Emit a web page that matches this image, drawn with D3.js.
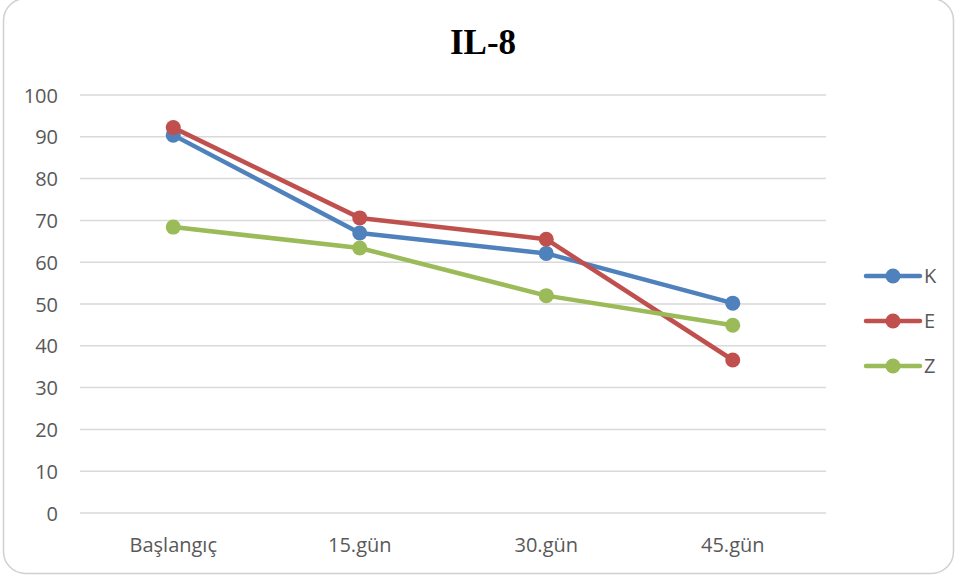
<!DOCTYPE html>
<html>
<head>
<meta charset="utf-8">
<script src="https://cdn.jsdelivr.net/npm/d3@7"></script>
<style>
  html, body { margin: 0; padding: 0; background: #fff; }
  svg { display: block; }
</style>
</head>
<body>
<svg id="chart" width="956" height="579"></svg>
<script>
const categories = ["Başlangıç", "15.gün", "30.gün", "45.gün"];
const seriesNames = ["K", "E", "Z"];
const valuesK = [90.4, 67.0, 62.1, 50.2];
const valuesE = [92.2, 70.6, 65.5, 36.6];
const valuesZ = [68.4, 63.4, 52.0, 44.9];
const yTicks = [0, 10, 20, 30, 40, 50, 60, 70, 80, 90, 100];
const colors = ["#4f81bd", "#c0504d", "#9bbb59"];
const title = "IL-8";

const series = seriesNames.map((name, i) => ({
  name,
  values: [valuesK, valuesE, valuesZ][i],
  color: colors[i]
}));

const svg = d3.select("#chart");
const font = "'Open Sans', 'Noto Sans', sans-serif";
const labelSize = 20;

// outer chart frame
svg.append("rect")
  .attr("x", 3.5).attr("y", -1.5)
  .attr("width", 950).attr("height", 575)
  .attr("rx", 22).attr("ry", 22)
  .attr("fill", "#fff")
  .attr("stroke", "#d0d0d0")
  .attr("stroke-width", 1.5);

const plot = { left: 80, right: 826, top: 95, bottom: 513 };

const x = d3.scaleBand()
  .domain(categories)
  .range([plot.left, plot.right]);

const y = d3.scaleLinear()
  .domain([0, 100])
  .range([plot.bottom, plot.top]);

// title
svg.append("text")
  .attr("x", 483).attr("y", 54)
  .attr("text-anchor", "middle")
  .attr("font-family", "'Liberation Serif', 'Times New Roman', serif")
  .attr("font-weight", "bold")
  .attr("font-size", 35)
  .attr("fill", "#000")
  .text(title);

// horizontal gridlines
svg.append("g")
  .selectAll("line")
  .data(yTicks)
  .join("line")
  .attr("x1", plot.left).attr("x2", plot.right)
  .attr("y1", d => y(d)).attr("y2", d => y(d))
  .attr("stroke", "#d9d9d9")
  .attr("stroke-width", 1.5);

// y axis labels
const yAxis = d3.axisLeft(y).tickValues(yTicks).tickSize(0).tickPadding(0);
const gy = svg.append("g")
  .attr("transform", `translate(58,0)`)
  .call(yAxis);
gy.select(".domain").remove();
gy.selectAll("text")
  .attr("font-family", font)
  .attr("font-size", labelSize)
  .attr("fill", "#595959")
  .attr("dy", "0.35em");

// x axis labels
const xAxis = d3.axisBottom(x).tickSize(0).tickPadding(0);
const gx = svg.append("g")
  .attr("transform", `translate(0,${plot.bottom})`)
  .call(xAxis);
gx.select(".domain").remove();
gx.selectAll("text")
  .attr("font-family", font)
  .attr("font-size", labelSize)
  .attr("fill", "#595959")
  .attr("dy", 0)
  .attr("y", 39);

const cx = c => x(c) + x.bandwidth() / 2;

const line = d3.line()
  .x((d, i) => cx(categories[i]))
  .y(d => y(d));

const g = svg.append("g");
series.forEach(s => {
  g.append("path")
    .attr("d", line(s.values))
    .attr("fill", "none")
    .attr("stroke", s.color)
    .attr("stroke-width", 4.5)
    .attr("stroke-linejoin", "round")
    .attr("stroke-linecap", "round");
  g.selectAll(null)
    .data(s.values)
    .join("circle")
    .attr("cx", (d, i) => cx(categories[i]))
    .attr("cy", d => y(d))
    .attr("r", 7.5)
    .attr("fill", s.color);
});

// legend
const legend = svg.append("g");
series.forEach((s, i) => {
  const ly = 276 + i * 45;
  legend.append("line")
    .attr("x1", 866).attr("x2", 920)
    .attr("y1", ly).attr("y2", ly)
    .attr("stroke", s.color)
    .attr("stroke-width", 4.5)
    .attr("stroke-linecap", "round");
  legend.append("circle")
    .attr("cx", 893).attr("cy", ly)
    .attr("r", 7.5)
    .attr("fill", s.color);
  legend.append("text")
    .attr("x", 924).attr("y", ly)
    .attr("dy", "0.35em")
    .attr("font-family", font)
    .attr("font-size", labelSize)
    .attr("fill", "#595959")
    .text(s.name);
});
</script>
</body>
</html>
